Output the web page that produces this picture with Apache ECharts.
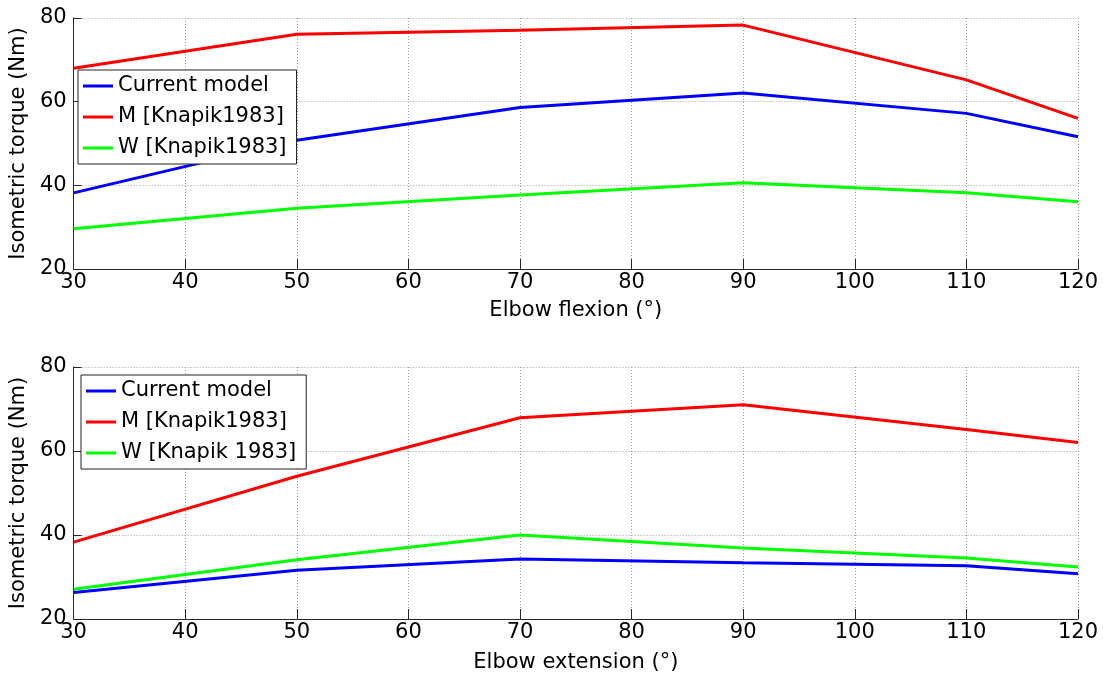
<!DOCTYPE html>
<html>
<head>
<meta charset="utf-8">
<script src="https://cdn.jsdelivr.net/npm/echarts@6/dist/echarts.min.js"></script>
<style>
html,body{margin:0;padding:0;background:#fff;}
#chart{width:1103px;height:678px;}
</style>
</head>
<body>
<div id="chart"></div>
<script>
// Data
const angles = [30, 50, 70, 90, 110, 120];
const flexCurrent = [38.2, 50.8, 58.6, 62.1, 57.2, 51.6];
const flexMen = [68.0, 76.1, 77.1, 78.3, 65.2, 56.0];
const flexWomen = [29.6, 34.5, 37.7, 40.6, 38.2, 36.1];
const extCurrent = [26.3, 31.6, 34.3, 33.4, 32.7, 30.8];
const extMen = [38.3, 54.0, 67.9, 71.0, 65.1, 62.0];
const extWomen = [27.1, 34.1, 40.0, 36.9, 34.5, 32.4];
const flexNames = ['Current model', 'M [Knapik1983]', 'W [Knapik1983]'];
const extNames = ['Current model', 'M [Knapik1983]', 'W [Knapik 1983]'];
const xTitles = ['Elbow flexion (°)', 'Elbow extension (°)'];
const yTitle = 'Isometric torque (Nm)';
const colors = ['#0000ff', '#ff0000', '#00ff00'];

const pair = (ys) => angles.map((a, i) => [a, ys[i]]);
const FONT = 'DejaVu Sans';
const axisCol = '#262626';

function xAxis(idx, title, gap) {
  return {
    type: 'value', gridIndex: idx, min: 30, max: 120, interval: 10,
    name: title, nameLocation: 'middle', nameGap: gap,
    nameTextStyle: {fontFamily: FONT, fontSize: 21, color: '#000'},
    axisLine: {show: true, onZero: false, lineStyle: {color: axisCol, width: 1}},
    axisTick: {show: true, inside: true, length: 10, lineStyle: {color: axisCol}},
    axisLabel: {fontFamily: FONT, fontSize: 21, color: '#000', margin: 3, showMinLabel: true, showMaxLabel: true},
    splitLine: {show: true, lineStyle: {color: '#a0a0a0', type: [1, 2], width: 1}}
  };
}
function yAxis(idx) {
  return {
    type: 'value', gridIndex: idx, min: 20, max: 80, interval: 20,
    name: yTitle, nameLocation: 'middle', nameGap: 35,
    nameTextStyle: {fontFamily: FONT, fontSize: 21, color: '#000'},
    axisLine: {show: true, onZero: false, lineStyle: {color: axisCol, width: 1}},
    axisTick: {show: true, inside: true, length: 8, lineStyle: {color: axisCol}},
    axisLabel: {fontFamily: FONT, fontSize: 21, color: '#000', margin: 7, showMinLabel: true, showMaxLabel: true},
    splitLine: {show: true, lineStyle: {color: '#a0a0a0', type: [1, 2], width: 1}}
  };
}
function ser(name, ys, ci, gi) {
  return {
    type: 'line', name: name, xAxisIndex: gi, yAxisIndex: gi,
    data: pair(ys), showSymbol: false, symbol: 'none',
    lineStyle: {color: colors[ci], width: 3}, itemStyle: {color: colors[ci]},
    animation: false, z: 2
  };
}
function legend(names, left, top) {
  return {
    data: names, orient: 'vertical', left: left, top: top,
    backgroundColor: '#fff', borderColor: '#222', borderWidth: 1,
    padding: [5, 10, 5, 5], itemGap: 9, itemWidth: 30, itemHeight: 3,
    icon: 'rect', selectedMode: false,
    textStyle: {fontFamily: FONT, fontSize: 21, color: '#000', lineHeight: 22}
  };
}

const chart = echarts.init(document.getElementById('chart'), null, {renderer: 'canvas'});
chart.setOption({
  animation: false,
  backgroundColor: '#fff',
  grid: [
    {left: 70, top: 18, width: 1008, height: 251, containLabel: false},
    {left: 70, top: 367, width: 1008, height: 252, containLabel: false}
  ],
  xAxis: [xAxis(0, xTitles[0], 31), xAxis(1, xTitles[1], 33)],
  yAxis: [yAxis(0), yAxis(1)],
  legend: [legend(flexNames, 78, 70), legend(extNames, 81, 375)],
  series: [
    ser(flexNames[0], flexCurrent, 0, 0),
    ser(flexNames[1], flexMen, 1, 0),
    ser(flexNames[2], flexWomen, 2, 0),
    ser(extNames[0], extCurrent, 0, 1),
    ser(extNames[1], extMen, 1, 1),
    ser(extNames[2], extWomen, 2, 1)
  ]
});
</script>
</body>
</html>
